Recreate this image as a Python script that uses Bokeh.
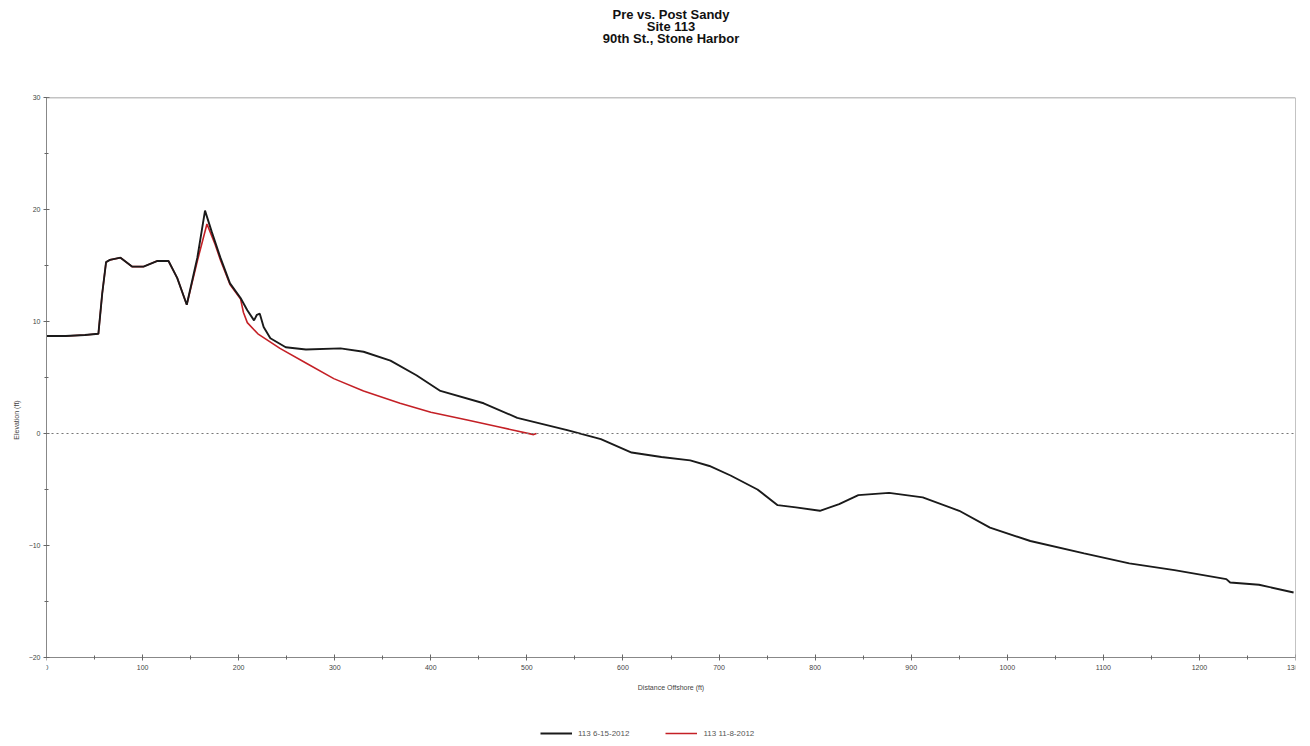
from bokeh.plotting import figure
from bokeh.models import (Range1d, Span, Legend, LegendItem, FixedTicker, Title,
                          LinearAxis)
from bokeh.embed import file_html
from bokeh.resources import INLINE

# ---- data ----
pre_label = "113 6-15-2012"
pre_x = [0, 20, 40, 54, 58, 62, 66, 77, 89, 101, 115, 127, 136, 146, 157, 165, 172, 181,
         191, 202, 209, 216, 219, 222, 226, 233, 249, 270, 306, 330, 358, 385, 410, 455,
         490, 542, 577, 609, 640, 670, 690, 712, 740, 761, 780, 805, 825, 845, 877, 912,
         950, 982, 1024, 1080, 1127, 1174, 1228, 1232, 1262, 1298]
pre_y = [8.7, 8.7, 8.8, 8.9, 12.5, 15.3, 15.5, 15.7, 14.9, 14.9, 15.4, 15.4, 13.9, 11.5,
         15.7, 19.9, 18.0, 15.7, 13.4, 12.1, 11.0, 10.1, 10.6, 10.7, 9.5, 8.5, 7.7, 7.5,
         7.6, 7.3, 6.5, 5.2, 3.8, 2.7, 1.4, 0.3, -0.5, -1.7, -2.1, -2.4, -2.9, -3.75, -5.0,
         -6.4, -6.6, -6.9, -6.3, -5.5, -5.3, -5.7, -6.9, -8.4, -9.6, -10.7, -11.6, -12.2,
         -13.0, -13.3, -13.5, -14.2]

post_label = "113 11-8-2012"
post_x = [0, 20, 40, 54, 58, 62, 66, 77, 89, 101, 115, 127, 136, 146, 157, 167, 175, 181,
          191, 202, 205, 209, 220, 243, 270, 299, 330, 368, 400, 438, 470, 507, 510]
post_y = [8.7, 8.7, 8.8, 8.9, 12.5, 15.3, 15.5, 15.7, 14.9, 14.9, 15.4, 15.4, 13.9, 11.5,
          15.4, 18.7, 17.0, 15.5, 13.3, 12.0, 10.8, 9.9, 8.9, 7.6, 6.3, 4.9, 3.8, 2.7, 1.9,
          1.2, 0.6, -0.1, 0.0]

x_ticks = list(range(0, 1301, 100))
y_ticks = [-20, -10, 0, 10, 20, 30]
x_min, x_max = 0, 1300
y_min, y_max = -20, 30

title_lines = ["Pre vs. Post Sandy", "Site 113", "90th St., Stone Harbor"]
x_title = "Distance Offshore (ft)"
y_title = "Elevation (ft)"

# ---- layout sizes (pixels) ----
PLOT_W, PLOT_H = 1249, 560          # the boxed chart area
EXTRA_BELOW = 85                    # room under the box for axis texts and legend
px_per_unit = PLOT_H / (y_max - y_min)
y_view_min = y_min - EXTRA_BELOW / px_per_unit

HAS_STANDOFF = "standoff" in Title.properties()


def make_title(text, size, bold, standoff):
    kw = dict(text=text, align="center", text_font="Liberation Sans",
              text_font_size=size, text_font_style="bold" if bold else "normal",
              text_color="#111111")
    if HAS_STANDOFF:
        kw["standoff"] = standoff
    return Title(**kw)


p = figure(frame_width=PLOT_W, frame_height=PLOT_H + EXTRA_BELOW,
           x_range=Range1d(x_min, x_max), y_range=Range1d(y_view_min, y_max),
           output_backend="svg", toolbar_location=None, title=None,
           min_border_left=46, min_border_right=7, min_border_top=97, min_border_bottom=0)

# spacer next to the plot, then the three title lines (later added = farther from plot)
p.add_layout(make_title(" ", "8px", False, 43), "above")
p.add_layout(make_title(title_lines[2], "13px", True, -5), "above")
p.add_layout(make_title(title_lines[1], "13px", True, -5), "above")
p.add_layout(make_title(title_lines[0], "13px", True, -5), "above")

p.grid.visible = False
p.outline_line_color = None
p.background_fill_color = "white"

for ax, ticks, label in ((p.xaxis[0], x_ticks, x_title), (p.yaxis[0], y_ticks, y_title)):
    ax.ticker = FixedTicker(ticks=ticks,
                            minor_ticks=[t + (ticks[1] - ticks[0]) / 2 for t in ticks[:-1]])
    ax.axis_label = label
    ax.axis_label_text_font = "Liberation Sans"
    ax.axis_label_text_font_size = "7px"
    ax.axis_label_text_font_style = "normal"
    ax.axis_label_text_color = "#444444"
    ax.major_label_text_font = "Liberation Sans"
    ax.major_label_text_font_size = "7px"
    ax.major_label_text_color = "#444444"
    ax.axis_line_color = "#888888"
    ax.major_tick_line_color = "#666666"
    ax.minor_tick_line_color = "#666666"
    ax.major_tick_in = 3
    ax.major_tick_out = 3
    ax.minor_tick_in = 2
    ax.minor_tick_out = 2

# bottom axis drawn at y = -20, inside the taller frame
p.xaxis[0].fixed_location = y_min
p.xaxis[0].bounds = (x_min, x_max)
p.yaxis[0].bounds = (y_min, y_max)
p.xaxis.major_label_standoff = 4
p.xaxis.axis_label_standoff = 11
p.yaxis.major_label_standoff = 3
p.yaxis.axis_label_standoff = 6

# right and top borders of the chart box
right_edge = LinearAxis(fixed_location=x_max, bounds=(y_min, y_max),
                        ticker=FixedTicker(ticks=[]), axis_line_color="#888888",
                        major_tick_line_color=None, minor_tick_line_color=None,
                        major_label_text_font_size="0px")
p.add_layout(right_edge, "right")
top_edge = Span(location=y_max, dimension="width", line_color="#888888", line_width=1.5)
p.add_layout(top_edge)

zero = Span(location=0, dimension="width", line_color="#777777", line_dash="2 3", line_width=1)
p.add_layout(zero)

r_post = p.line(post_x, post_y, line_color="#c42026", line_width=1.6)
r_pre = p.line(pre_x, pre_y, line_color="#1a1a1a", line_width=1.9)

legend = Legend(items=[LegendItem(label=pre_label, renderers=[r_pre]),
                       LegendItem(label=post_label, renderers=[r_post])],
                orientation="horizontal", location=(494, 4),
                glyph_width=32, glyph_height=8, label_height=10,
                label_text_font="Liberation Sans",
                label_text_font_size="8px", label_text_color="#555555",
                spacing=36, padding=0, margin=0, border_line_color=None,
                background_fill_alpha=0, label_standoff=6)
p.add_layout(legend)

open("out.html", "w").write(file_html(p, INLINE))
